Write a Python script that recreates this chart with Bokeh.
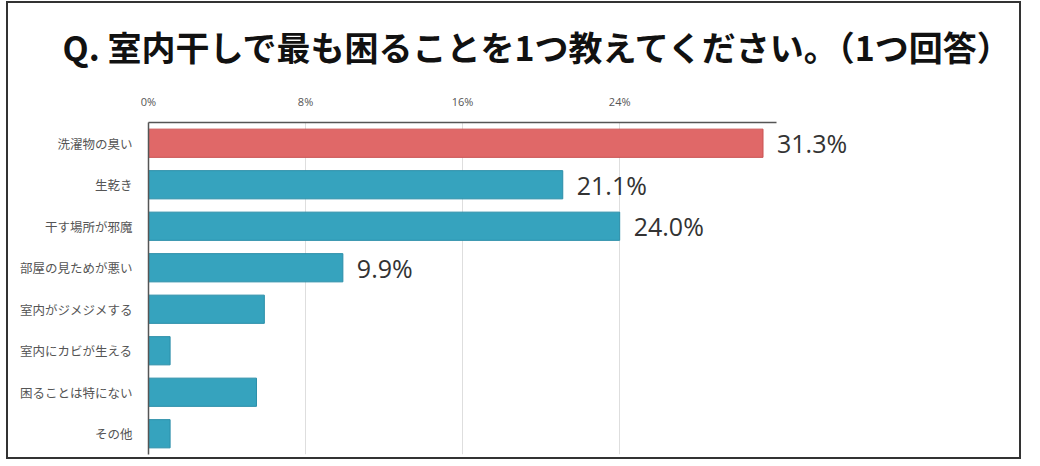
from bokeh.plotting import figure
from bokeh.models import (Range1d, FactorRange, FixedTicker, PrintfTickFormatter,
                          ColumnDataSource)
from bokeh.core.properties import value
from bokeh.embed import file_html
from bokeh.resources import INLINE

# ---- data ----
categories = ["洗濯物の臭い", "生乾き", "干す場所が邪魔", "部屋の見ためが悪い",
              "室内がジメジメする", "室内にカビが生える", "困ることは特にない", "その他"]
percent = [31.3, 21.1, 24.0, 9.9, 5.9, 1.1, 5.5, 1.1]
tick_values = [0, 8, 16, 24]
axis_max = 32
title_text = "Q. 室内干しで最も困ることを1つ教えてください。（1つ回答）"

# ---- styling derived from data ----
top = max(percent)
fill_colors = ["#e06868" if v == top else "#36a3be" for v in percent]
line_colors = ["#c95353" if v == top else "#2a8ea8" for v in percent]
labels = [f"{v:.1f}%" if v >= 9 else "" for v in percent]

src = ColumnDataSource(dict(cat=categories, val=percent, fill=fill_colors,
                            line=line_colors, lab=labels))

JP = "Noto Sans CJK JP"

p = figure(width=1011, height=454, output_backend="svg", toolbar_location=None,
           y_range=FactorRange(factors=list(reversed(categories))),
           x_range=Range1d(0, 43.6), x_axis_location="above",
           min_border_left=140, min_border_right=19,
           min_border_top=119, min_border_bottom=7)
p.margin = (1, 0, 5, 6)
p.styles = {"border": "2px solid #333333", "box-sizing": "content-box"}

p.title.text = title_text
p.title.text_font = JP
p.title.text_font_size = "34px"
p.title.text_font_style = "bold"
p.title.text_color = "#111111"
p.title.align = "left"
p.title.vertical_align = "top"
p.title.standoff = 36
p.title.offset = -86

p.outline_line_color = None
p.background_fill_color = "white"
p.border_fill_color = "white"

p.hbar(y="cat", left=0, right="val", height=0.68, source=src,
       fill_color="fill", line_color="line", line_width=1)

p.text(x="val", y="cat", text="lab", source=src, x_offset=14,
       text_baseline="middle", text_align="left",
       text_font=value("Open Sans"), text_font_size="25px", text_color="#333333")

# x axis (top)
xa = p.xaxis[0]
xa.ticker = FixedTicker(ticks=tick_values)
xa.formatter = PrintfTickFormatter(format="%d%%")
xa.bounds = (0, axis_max)
xa.axis_line_color = "#555555"
xa.axis_line_width = 1.5
xa.major_tick_line_color = None
xa.minor_tick_line_color = None
xa.major_label_text_font = "Open Sans"
xa.major_label_text_font_size = "11px"
xa.major_label_text_color = "#555555"
xa.major_label_standoff = 8

p.xgrid.grid_line_color = "#dedede"
p.xgrid.bounds = (0, axis_max)
p.ygrid.grid_line_color = None

ya = p.yaxis[0]
ya.axis_line_color = "#555555"
ya.axis_line_width = 1.5
ya.major_tick_line_color = None
ya.minor_tick_line_color = None
ya.major_label_text_font = JP
ya.major_label_text_font_size = "12.5px"
ya.major_label_text_color = "#555555"
ya.major_label_standoff = 10

open("out.html", "w").write(file_html(p, INLINE))
